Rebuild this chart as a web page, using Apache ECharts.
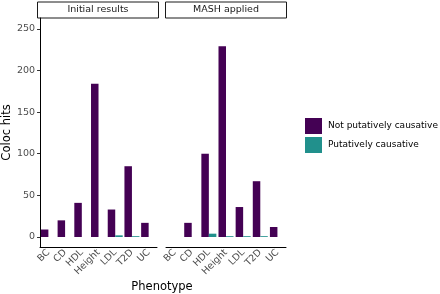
<!DOCTYPE html>
<html>
<head>
<meta charset="utf-8">
<script src="https://cdn.jsdelivr.net/npm/echarts@6/dist/echarts.min.js"></script>
<style>
  html, body { margin: 0; padding: 0; background: #fff; }
  #chart { width: 440px; height: 294px; }
</style>
</head>
<body>
<div id="chart"></div>
<script>
// data
var phenotypes = ["BC", "CD", "HDL", "Height", "LDL", "T2D", "UC"];
var initialNot = [9, 20, 41, 184, 33, 85, 17];
var initialPut = [0, 0, 0, 0, 2, 1, 0];
var mashNot = [0, 17, 100, 229, 36, 67, 12];
var mashPut = [0, 0, 4, 1, 1, 1, 0];
var yTicks = [0, 50, 100, 150, 200, 250];
var panels = ["Initial results", "MASH applied"];
var seriesNames = ["Not putatively causative", "Putatively causative"];

var purple = "#440154";
var teal = "#21908c";
var font = "DejaVu Sans";

var myChart = echarts.init(document.getElementById("chart"));

function xAxisFor(i) {
    return {
        type: "category",
        gridIndex: i,
        data: phenotypes,
        axisLine: { onZero: false, lineStyle: { color: "#000", width: 1 } },
        axisTick: { alignWithLabel: true, interval: 0, length: 3, lineStyle: { color: "#333" } },
        axisLabel: {
            rotate: 45, interval: 0, hideOverlap: false,
            fontSize: 9.5, color: "#4d4d4d", fontFamily: font, margin: 4
        }
    };
}

function yAxisFor(i, show) {
    return {
        type: "value",
        gridIndex: i,
        min: -12,
        max: 263,
        splitLine: { show: false },
        axisLine: { show: show, lineStyle: { color: "#000", width: 1 } },
        axisTick: { show: show, length: 3, customValues: yTicks, lineStyle: { color: "#333" } },
        axisLabel: {
            show: show, fontSize: 9.5, color: "#4d4d4d", fontFamily: font,
            margin: 5, customValues: yTicks
        },
        name: show ? "Coloc hits" : "",
        nameLocation: "middle",
        nameGap: 27,
        nameTextStyle: { fontSize: 11.5, color: "#000", fontFamily: font }
    };
}

function bar(name, values, i, color) {
    return {
        type: "bar",
        name: name,
        xAxisIndex: i,
        yAxisIndex: i,
        data: values,
        barWidth: 7.5,
        barGap: "0%",
        itemStyle: { color: color },
        silent: true
    };
}

function strip(left, width, text) {
    return [
        {
            type: "rect",
            shape: { x: left, y: 2, width: width, height: 16 },
            style: { fill: "#fff", stroke: "#1a1a1a", lineWidth: 1 }
        },
        {
            type: "text",
            x: left + width / 2,
            y: 10,
            style: {
                text: text, fill: "#1a1a1a", fontSize: 9.5, fontFamily: font,
                align: "center", verticalAlign: "middle"
            }
        }
    ];
}

option = {
    animation: false,
    grid: [
        { left: 38, top: 18, width: 119, height: 229 },
        { left: 166, top: 18, width: 120, height: 229 }
    ],
    xAxis: [xAxisFor(0), xAxisFor(1)],
    yAxis: [yAxisFor(0, true), yAxisFor(1, false)],
    legend: {
        orient: "vertical",
        left: 305,
        top: 118,
        itemWidth: 17,
        itemHeight: 16,
        itemGap: 3,
        icon: "rect",
        selectedMode: false,
        textStyle: { fontSize: 9, color: "#000", fontFamily: font, padding: [0, 0, 0, 1] },
        padding: 0,
        data: seriesNames
    },
    series: [
        bar(seriesNames[0], initialNot, 0, purple),
        bar(seriesNames[1], initialPut, 0, teal),
        bar(seriesNames[0], mashNot, 1, purple),
        bar(seriesNames[1], mashPut, 1, teal)
    ],
    graphic: strip(37.5, 121, panels[0]).concat(strip(165.5, 121, panels[1])).concat([
        {
            type: "text",
            x: 162,
            y: 287,
            style: {
                text: "Phenotype", fill: "#000", fontSize: 11.5, fontFamily: font,
                align: "center", verticalAlign: "middle"
            }
        }
    ])
};

option && myChart.setOption(option);
</script>
</body>
</html>
